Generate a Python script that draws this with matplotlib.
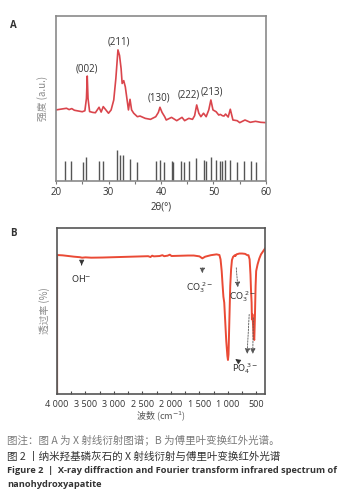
import matplotlib
matplotlib.use("Agg")
import matplotlib.pyplot as plt

# ---------------- data ----------------
# XRD pattern (2theta, intensity a.u.)
xrd_2theta = [20, 21, 22, 22.5, 23, 23.5, 24, 25, 25.5, 25.8, 25.95, 26.1, 26.4, 27, 27.5, 28.2, 28.6, 29.0,
              29.5, 30.0, 30.5, 31.0, 31.4, 31.8, 32.1, 32.4, 32.6, 32.9, 33.2, 33.5, 33.8, 34.1, 34.4, 34.8,
              35.5, 36, 37, 38, 39, 39.5, 39.8, 40.2, 40.7, 41, 42, 43, 44, 44.5, 45.3, 46, 46.4, 46.8, 47.2,
              47.6, 48.1, 48.6, 49.1, 49.5, 49.9, 50.5, 51, 51.3, 51.7, 52, 52.3, 52.8, 53.2, 53.7, 54.5, 55,
              56, 57, 58, 59, 60]
xrd_int = [43.0, 43.5, 44.0, 43.2, 43.8, 42.8, 42.5, 41.9, 42.5, 50, 63.5, 50, 42, 41.5, 41.3, 44.6, 41.7, 45.0,
           43, 41.0, 43, 49.0, 62, 79.3, 76, 68, 59, 60.7, 57, 50, 43.0, 49.4, 43, 41.0,
           38.9, 39.3, 37.9, 37.3, 38.9, 41.5, 44.6, 41.5, 38.9, 36.9, 38.5, 36.5, 38.5, 36.5, 37.9, 37.3, 39.5, 46.0, 41,
           38.9, 41.0, 38.9, 43, 49.0, 43, 41.9, 39.9, 40.3, 39.5, 39.3, 40.5, 38.7, 43.4, 36.9, 36.5, 35.3,
           36.9, 35.5, 36.1, 35.5, 35.3]

# reference stick pattern
ref_2theta = [21.8, 22.9, 25.2, 25.8, 28.1, 29.0, 31.7, 32.2, 32.8, 34.0, 35.5, 39.1, 39.8, 40.5, 42.0, 42.3,
              43.8, 44.3, 45.3, 46.7, 48.1, 48.6, 49.5, 50.4, 51.2, 51.6, 52.2, 53.2, 54.5, 55.9, 57.1, 58.1, 60.0]
ref_int = [12.3, 12.3, 11.3, 14.3, 12.3, 12.3, 18.8, 15.7, 15.7, 13.3, 11.7, 11.9, 12.7, 11.3, 12.1, 11.7,
           11.9, 11.5, 11.9, 13.7, 12.5, 12.1, 14.3, 12.9, 12.3, 12.1, 12.7, 12.9, 11.7, 12.1, 12.1, 11.5, 11.9]

peak_labels = ["(002)", "(211)", "(130)", "(222)", "(213)"]
peak_label_x = [25.9, 31.9, 39.7, 45.2, 49.7]
peak_label_y = [68, 84, 50, 52, 54]

# FTIR spectrum (wavenumber cm-1, transmittance %)
ftir_wn = [4000, 3900, 3800, 3700, 3600, 3560, 3500, 3400, 3200, 3000, 2800, 2600, 2400, 2360, 2330, 2300,
           2200, 2150, 2120, 2060, 2020, 1990, 1900, 1800, 1700, 1600, 1500, 1450, 1400, 1300, 1200, 1150,
           1130, 1110, 1095, 1080, 1065, 1050, 1030, 1010, 1000, 990, 975, 960, 945, 930, 910, 880, 870,
           850, 800, 750, 700, 660, 640, 620, 605, 595, 585, 580, 570, 560, 548, 538, 528, 515, 505, 480,
           450, 420, 380, 350]
ftir_t = [83.6, 83.4, 83.0, 82.6, 82.3, 82.0, 82.2, 82.0, 82.1, 82.3, 82.5, 82.7, 82.9, 82.4, 83.2, 82.8,
          83.0, 83.5, 82.9, 83.2, 83.8, 83.0, 83.1, 83.2, 83.3, 83.3, 82.8, 81.6, 82.6, 83.5, 84.0, 83.6,
          81, 74, 66, 58.6, 55, 45, 32, 23, 20.6, 24, 45, 65, 75, 80.6, 82.5, 83.5, 83.0,
          84.0, 84.5, 84.5, 84.3, 83.5, 83.5, 81, 72, 62, 55, 45, 48, 42, 34, 32.6, 45, 65, 74, 78,
          81.5, 84, 86, 87.5]

ftir_ticks = [4000, 3500, 3000, 2500, 2000, 1500, 1000, 500]
ftir_ticklabels = ["4 000", "3 500", "3 000", "2 500", "2 000", "1 500", "1 000", "500"]

# ---------------- figure ----------------
W, H = 347, 496
fig = plt.figure(figsize=(W / 100, H / 100), dpi=100)
fig.patch.set_facecolor("white")

cjk = ["Noto Sans CJK SC", "DejaVu Sans"]
num_font = ["Open Sans", "DejaVu Sans"]
red_a = "#da454c"
red_b = "#ea4a35"

# Panel A
axA = fig.add_axes([56 / W, 1 - 181 / H, 210 / W, 165.3 / H])
axA.plot(xrd_2theta, xrd_int, color=red_a, lw=1.2)
axA.vlines(ref_2theta, 0, ref_int, color="#555555", lw=1.0)
axA.set_xlim(20, 60)
axA.set_ylim(0, 100)
axA.set_yticks([])
axA.set_xticks([20, 30, 40, 50, 60])
axA.set_xticks([25, 35, 45, 55], minor=True)
axA.tick_params(axis="x", which="both", direction="out", length=2, width=0.8, color="#777777",
                labelsize=7, labelcolor="#333333", pad=2)
for lab in axA.get_xticklabels():
    lab.set_family(num_font)
for s in axA.spines.values():
    s.set_color("#8a8a8a")
    s.set_linewidth(1.2)
for t, x, y in zip(peak_labels, peak_label_x, peak_label_y):
    axA.text(x, y, t, ha="center", va="center", fontsize=7, color="#333333", family=num_font)
axA.set_xlabel("2θ(°)", fontsize=7, color="#333333", family=num_font, labelpad=3)
axA.text(-0.065, 0.5, "强度 (a.u.)", transform=axA.transAxes, rotation=90, ha="center", va="center",
         fontsize=7, color="#8a8a8a", family=cjk)
fig.text(13 / W, 1 - 25 / H, "A", fontsize=7, fontweight="bold", color="#333333", ha="center", va="center",
         family=num_font)

# Panel B
axB = fig.add_axes([57 / W, 1 - 394.3 / H, 208 / W, 166.6 / H])
axB.plot(ftir_wn, ftir_t, color=red_b, lw=1.4)
axB.set_xlim(4000, 350)
axB.set_ylim(0, 100)
axB.set_yticks([])
axB.set_xticks(ftir_ticks)
axB.set_xticklabels(ftir_ticklabels)
axB.set_xticks([3750, 3250, 2750, 2250, 1750, 1250, 750], minor=True)
axB.tick_params(axis="x", which="both", direction="in", length=2, width=0.8, color="#444444",
                labelsize=6.5, labelcolor="#333333", pad=4)
for lab in axB.get_xticklabels():
    lab.set_family(num_font)
for s in axB.spines.values():
    s.set_color("#555555")
    s.set_linewidth(1.2)
axB.axvline(4000, ymin=0, ymax=ftir_t[0] / 100, color="#b97566", lw=1.6)
axB.set_xlabel("波数 (cm$^{-1}$)", fontsize=6.5, color="#555555", family=cjk, labelpad=0)
axB.text(-0.06, 0.5, "透过率 (%)", transform=axB.transAxes, rotation=90, ha="center", va="center",
         fontsize=7, color="#8a8a8a", family=cjk)
fig.text(13 / W, 1 - 233 / H, "B", fontsize=7, fontweight="bold", color="#333333", ha="center", va="center",
         family=num_font)

arrow_kw = dict(arrowstyle="-|>,head_length=0.3,head_width=0.15", color="#333333", lw=0.6)
dash_kw = dict(arrowstyle="-|>,head_length=0.3,head_width=0.15", color="#555555", lw=0.6, ls=(0, (2, 1.5)))
axB.annotate("", xy=(3567, 75.8), xytext=(3567, 79.4), arrowprops=arrow_kw)
axB.text(3567, 69.6, "OH$^{-}$", ha="center", va="center", fontsize=6.5, color="#333333")
axB.annotate("", xy=(1450, 71), xytext=(1450, 77.6), arrowprops=dash_kw)
axB.text(1490, 63.8, "CO$_3^{\\ 2-}$", ha="center", va="center", fontsize=6.5, color="#333333")
axB.annotate("", xy=(823, 62.6), xytext=(858, 77.6), arrowprops=dash_kw)
axB.text(740, 58.5, "CO$_3^{\\ 2-}$", ha="center", va="center", fontsize=6.5, color="#333333")
axB.annotate("", xy=(666, 22.6), xytext=(625, 49.6), arrowprops=dash_kw)
axB.annotate("", xy=(565, 22.6), xytext=(555, 47.6), arrowprops=dash_kw)
axB.annotate("", xy=(911, 22.1), xytext=(771, 18.8), arrowprops=arrow_kw)
axB.text(700, 15.2, "PO$_4^{\\ 3-}$", ha="center", va="center", fontsize=6.5, color="#333333")

# captions
fig.text(7 / W, 1 - 440 / H, "图注：图 A 为 X 射线衍射图谱；B 为傅里叶变换红外光谱。", fontsize=7.55,
         color="#7a7a7a", family=cjk, ha="left", va="center")
fig.text(7 / W, 1 - 456 / H, "图 2 丨纳米羟基磷灰石的 X 射线衍射与傅里叶变换红外光谱", fontsize=7.6,
         color="#333333", family=cjk, ha="left", va="center")
fig.text(7 / W, 1 - 470.5 / H, "Figure 2  |  X-ray diffraction and Fourier transform infrared spectrum of",
         fontsize=6.7, fontweight="bold", color="#333333", family=num_font, ha="left", va="center")
fig.text(7 / W, 1 - 484.5 / H, "nanohydroxyapatite",
         fontsize=6.7, fontweight="bold", color="#333333", family=num_font, ha="left", va="center")

fig.savefig("out.png", dpi=100, facecolor="white")
